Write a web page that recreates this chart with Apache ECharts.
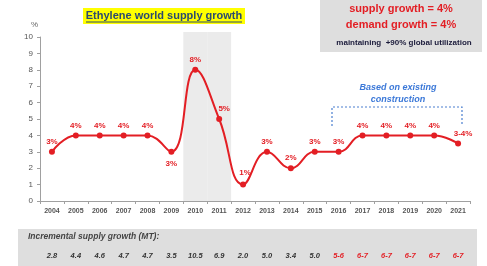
<!DOCTYPE html>
<html>
<head>
    <meta charset="UTF-8">
    <title>Ethylene world supply growth</title>
    <script src="https://cdn.jsdelivr.net/npm/echarts@6/dist/echarts.min.js"></script>
    <style>
        html, body { margin: 0; padding: 0; background: #fff; }
        #mycharts { width: 487px; height: 266px; }
    </style>
</head>
<body>
    <div id="mycharts"></div>
    <script>
        // data
        var years = ['2004', '2005', '2006', '2007', '2008', '2009', '2010', '2011', '2012',
            '2013', '2014', '2015', '2016', '2017', '2018', '2019', '2020', '2021'];
        var growth = [3, 4, 4, 4, 4, 3, 8, 5, 1, 3, 2, 3, 3, 4, 4, 4, 4, 3.5];
        var growthLabels = ['3%', '4%', '4%', '4%', '4%', '3%', '8%', '5%', '1%',
            '3%', '2%', '3%', '3%', '4%', '4%', '4%', '4%', '3-4%'];
        var incremental = ['2.8', '4.4', '4.6', '4.7', '4.7', '3.5', '10.5', '6.9', '2.0',
            '5.0', '3.4', '5.0', '5-6', '6-7', '6-7', '6-7', '6-7', '6-7'];
        var firstForecast = 12; // from 2016 on the supply numbers are red
        var shadeYears = ['2010', '2011'];
        var shadeTop = 10.3;

        var red = '#e31e24';
        var font = 'Liberation Sans, Arial, sans-serif';

        var lineData = growth.map(function (v, i) {
            var item = { value: v };
            if (years[i] === '2009') {
                item.label = { position: 'bottom', distance: 5 };
            } else if (years[i] === '2011' || years[i] === '2021') {
                item.label = { offset: [5, 0] };
            } else if (years[i] === '2012') {
                item.label = { offset: [2, 0], distance: 5 };
            }
            return item;
        });
        var shadeData = years.map(function (y) {
            return shadeYears.indexOf(y) == -1 ? null : shadeTop;
        });

        var option = {
            animation: false,
            textStyle: { fontFamily: font },
            grid: { left: 40, right: 17, top: 37, bottom: 65 },
            xAxis: [{
                type: 'category',
                data: years,
                boundaryGap: true,
                axisLine: { lineStyle: { color: '#a0a0a0' } },
                axisTick: { show: true, length: 3, lineStyle: { color: '#a0a0a0' } },
                axisLabel: { fontSize: 7, color: '#555', margin: 7, fontWeight: 'bold', interval: 0 }
            }, {
                type: 'category',
                data: incremental,
                position: 'bottom',
                offset: 45,
                axisLine: { show: false },
                axisTick: { show: false },
                axisLabel: {
                    interval: 0,
                    fontSize: 7.5, fontWeight: 'bold', fontStyle: 'italic', margin: 6,
                    formatter: function (v, i) {
                        return i >= firstForecast ? '{r|' + v + '}' : '{k|' + v + '}';
                    },
                    rich: {
                        r: { color: red, fontSize: 7.5, fontWeight: 'bold', fontStyle: 'italic' },
                        k: { color: '#333', fontSize: 7.5, fontWeight: 'bold', fontStyle: 'italic' }
                    }
                }
            }],
            yAxis: {
                type: 'value',
                min: 0,
                max: 10,
                interval: 1,
                name: '%',
                nameGap: 8,
                nameTextStyle: { fontSize: 8, color: '#666', align: 'right', padding: [0, 2, 0, 0] },
                axisLine: { show: true, lineStyle: { color: '#a0a0a0' } },
                axisTick: { show: true, length: 3, lineStyle: { color: '#a0a0a0' } },
                axisLabel: { fontSize: 8, color: '#555', margin: 7 },
                splitLine: { show: false }
            },
            series: [{
                name: 'shade',
                type: 'bar',
                data: shadeData,
                barWidth: '100%',
                clip: false,
                silent: true,
                z: 1,
                itemStyle: { color: '#ebebeb' }
            }, {
                name: 'growth',
                type: 'line',
                data: lineData,
                smooth: 0.45,
                symbol: 'circle',
                symbolSize: 6,
                z: 5,
                lineStyle: { color: red, width: 2 },
                itemStyle: { color: red },
                label: {
                    show: true,
                    position: 'top',
                    distance: 3,
                    fontSize: 8,
                    fontWeight: 'bold',
                    color: red,
                    formatter: function (p) { return growthLabels[p.dataIndex]; }
                }
            }],
            graphic: [
                // title
                { type: 'rect', shape: { x: 83, y: 8, width: 162, height: 16 }, style: { fill: '#ffff00' }, z: -5 },
                { type: 'text', x: 164, y: 15.5, style: { text: 'Ethylene world supply growth', fill: '#2b4a6f', font: 'bold 11px ' + font, textAlign: 'center', textVerticalAlign: 'middle' } },
                { type: 'line', shape: { x1: 86, y1: 22, x2: 242, y2: 22 }, style: { stroke: '#2b4a6f', lineWidth: 1 } },
                // top right box
                { type: 'rect', shape: { x: 320, y: 0, width: 162, height: 52 }, style: { fill: '#dedede' }, z: -5 },
                { type: 'text', x: 401, y: 9, style: { text: 'supply growth = 4%', fill: red, font: 'bold 11px ' + font, textAlign: 'center', textVerticalAlign: 'middle' } },
                { type: 'text', x: 401, y: 25, style: { text: 'demand growth = 4%', fill: red, font: 'bold 11px ' + font, textAlign: 'center', textVerticalAlign: 'middle' } },
                { type: 'text', x: 404, y: 43, style: { text: 'maintaining  +90% global utilization', fill: '#1a1a3a', font: 'bold 8px ' + font, textAlign: 'center', textVerticalAlign: 'middle' } },
                // forecast note
                { type: 'text', x: 398, y: 88, style: { text: 'Based on existing', fill: '#3b78d8', font: 'italic bold 9px ' + font, textAlign: 'center', textVerticalAlign: 'middle' } },
                { type: 'text', x: 398, y: 100, style: { text: 'construction', fill: '#3b78d8', font: 'italic bold 9px ' + font, textAlign: 'center', textVerticalAlign: 'middle' } },
                { type: 'polyline', shape: { points: [[332, 126], [332, 107], [462, 107], [462, 126]] }, style: { stroke: '#4a7fd0', lineWidth: 1.2, lineDash: [2, 2], fill: null } },
                // bottom band
                { type: 'rect', shape: { x: 18, y: 229, width: 459, height: 37 }, style: { fill: '#dedede' }, z: -5 },
                { type: 'text', x: 28, y: 237, style: { text: 'Incremental supply growth (MT):', fill: '#444', font: 'italic bold 8.5px ' + font, textVerticalAlign: 'middle' } }
            ]
        };

        var myChart = echarts.init(document.getElementById('mycharts'));
        myChart.setOption(option);
    </script>
</body>
</html>
